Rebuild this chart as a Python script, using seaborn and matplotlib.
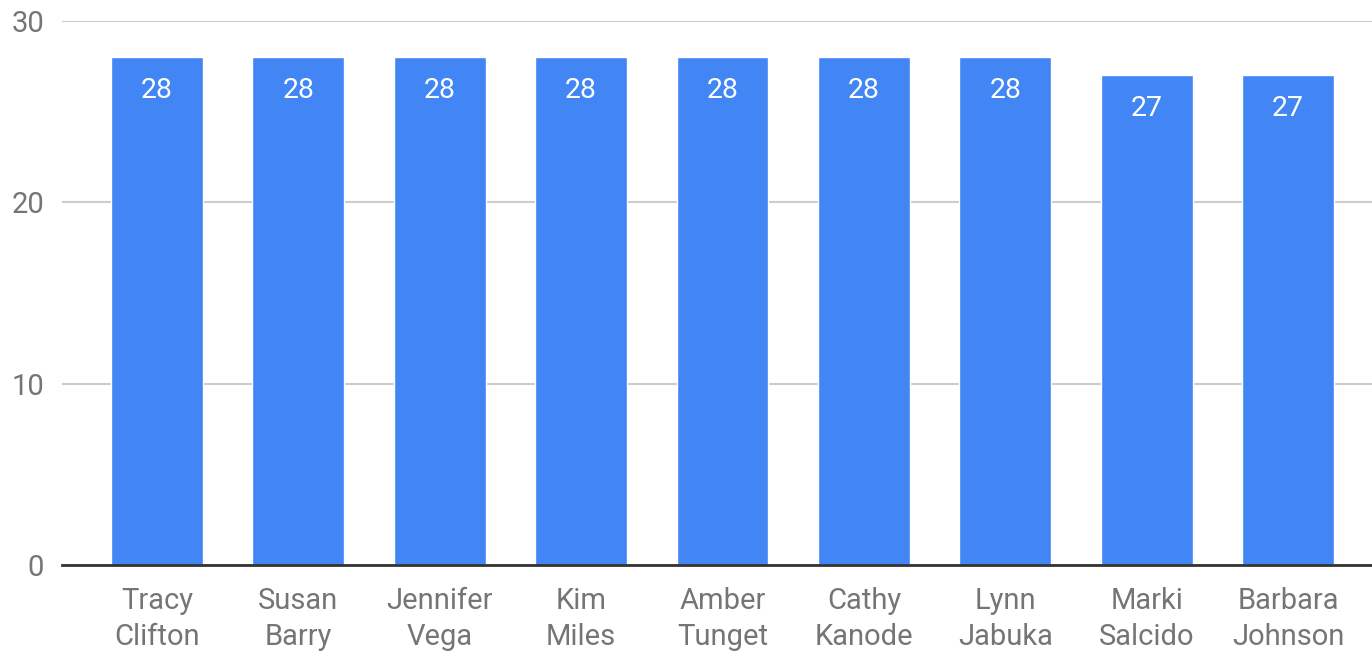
import numpy as np
import pandas as pd
import matplotlib
matplotlib.use("Agg")
import matplotlib.pyplot as plt
import seaborn as sns

# values
names = ["Tracy\nClifton", "Susan\nBarry", "Jennifer\nVega", "Kim\nMiles", "Amber\nTunget",
         "Cathy\nKanode", "Lynn\nJabuka", "Marki\nSalcido", "Barbara\nJohnson"]
counts = [28, 28, 28, 28, 28, 28, 28, 27, 27]
yticks = [0, 10, 20, 30]

df = pd.DataFrame({"name": names, "count": counts})

sns.set_style("white")
plt.rcParams['font.family'] = ['Roboto', 'DejaVu Sans']

fig = plt.figure(figsize=(13.72, 6.53), dpi=100)
ax = fig.add_axes([62/1372, 1-565/653, 1-62/1372, 544/653])

sns.barplot(data=df, x="name", y="count", color="#4285F4", width=0.65,
            saturation=1, ax=ax, zorder=3)

for i, v in enumerate(counts):
    ax.annotate(str(v), (i, v), xytext=(0, -14), textcoords="offset points",
                ha="center", va="top", color="white", fontsize=20.5)

ax.set_ylim(0, 30)
ax.set_xlim(-0.672, 8.594)
ax.set_yticks(yticks)
ax.yaxis.grid(True, color="#cccccc", lw=1.5, zorder=0)
ax.set_axisbelow(True)
for s in ["top", "right", "left"]:
    ax.spines[s].set_visible(False)
ax.spines["bottom"].set_color("#333333")
ax.spines["bottom"].set_linewidth(2)
ax.spines["bottom"].set_zorder(5)
ax.tick_params(axis="both", length=0, labelsize=21, labelcolor="#757575")
ax.tick_params(axis="y", pad=13)
ax.tick_params(axis="x", pad=15.5)
for lbl in ax.get_xticklabels():
    lbl.set_linespacing(1.4)
ax.set_xlabel("")
ax.set_ylabel("")

fig.savefig("out.png", dpi=100)
